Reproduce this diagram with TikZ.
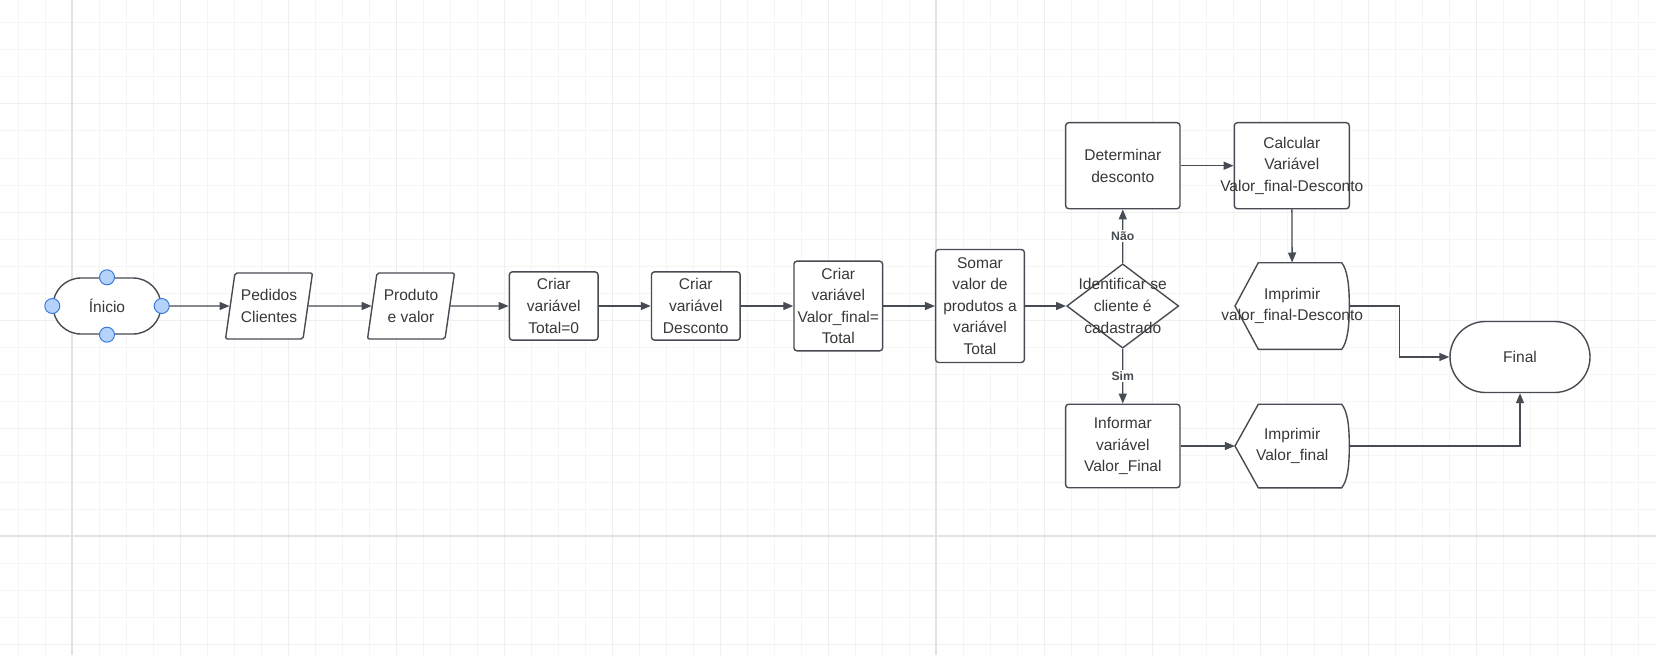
\documentclass[tikz,border=0pt]{standalone}
\usepackage{fontspec}
\setmainfont{Liberation Sans}
\usetikzlibrary{shapes.geometric, shapes.misc, arrows.meta, positioning, calc}

\definecolor{gridminor}{HTML}{F5F5F5}
\definecolor{gridmid}{HTML}{EFEFEF}
\definecolor{gridmajor}{HTML}{E3E3E3}
\definecolor{edgegray}{HTML}{474B53}
\definecolor{textgray}{HTML}{383838}
\definecolor{handlefill}{HTML}{B5D3FA}
\definecolor{handleblue}{HTML}{3A7BDC}

% display shape (print), drawn round a coordinate
\newcommand\printshape[2]{%
  \draw[shapeline, fill=white]
    ($(#1)+(-57.2,0)$) -- ($(#1)+(-33.9,-#2)$) -- ($(#1)+(49.5,-#2)$)
    .. controls ($(#1)+(55,-#2+7)$) and ($(#1)+(57.1,-22)$) .. ($(#1)+(57.1,0)$)
    .. controls ($(#1)+(57.1,22)$) and ($(#1)+(55,#2-7)$) .. ($(#1)+(49.5,#2)$)
    -- ($(#1)+(-33.9,#2)$) -- cycle;}

\begin{document}
\begin{tikzpicture}[x=1bp, y=-1bp,
    every node/.style={font=\fontsize{15.6}{21.7}\selectfont, text=textgray, align=center},
    shapeline/.style={draw=edgegray, line width=1.4bp},
    box/.style={shapeline, fill=white, rounded corners=3bp, inner sep=0pt},
    term/.style={shapeline, fill=white, rounded rectangle, inner sep=0pt},
    io/.style={shapeline, fill=white, trapezium, trapezium left angle=74, trapezium right angle=106,
      trapezium stretches body, minimum width=87bp, minimum height=66bp, inner sep=0pt, rounded corners=2bp},
    decision/.style={shapeline, fill=white, diamond, minimum width=112bp, minimum height=84.3bp, inner sep=0pt},
    flow/.style={draw=edgegray, line width=1.4bp, -{Triangle[length=10bp, width=8bp]}},
    answer/.style={font=\fontsize{12.3}{14}\selectfont\bfseries, text=edgegray, fill=white, inner sep=1.5bp},
    handle/.style={draw=handleblue, fill=handlefill, line width=1bp}]

    % Canvas grid
    \useasboundingbox (0,0) rectangle (1656,655);
    \fill[white] (0,0) rectangle (1656,655);
    \foreach \i in {-2,...,58}
        \draw[gridminor, line width=1bp] ({72+27*\i},0) -- ({72+27*\i},655);
    \foreach \i in {-19,...,4}
        \draw[gridminor, line width=1bp] (0,{536+27*\i}) -- (1656,{536+27*\i});
    \foreach \i in {0,...,14}
        \draw[gridmid, line width=1bp] ({72+108*\i},0) -- ({72+108*\i},655);
    \foreach \i in {-4,...,1}
        \draw[gridmid, line width=1bp] (0,{536+108*\i}) -- (1656,{536+108*\i});
    \foreach \x in {72,936}
        \draw[gridmajor, line width=1.8bp] (\x,0) -- (\x,655);
    \draw[gridmajor, line width=1.8bp] (0,536) -- (1656,536);

    % Main row
    \node[term, minimum width=108bp, minimum height=56bp] (inicio) at (107,306) {Ínicio};
    \node[io] (pedidos) at (269,306) {Pedidos\\Clientes};
    \node[io] (produto) at (411,306) {Produto\\e valor};
    \node[box, minimum width=88.7bp, minimum height=68.3bp] (total) at (553.7,306) {Criar\\variável\\Total=0};
    \node[box, minimum width=88.7bp, minimum height=68.3bp] (desconto) at (695.8,306) {Criar\\variável\\Desconto};
    \node[box, minimum width=88.7bp, minimum height=89.7bp] (valfinal) at (838.3,306) {Criar\\variável\\Valor\_final=\\Total};
    \node[box, minimum width=88.7bp, minimum height=113bp] (somar) at (980,306) {Somar\\valor de\\produtos a\\variável\\Total};
    \node[decision] (ident) at (1122.7,306) {};
    \node (identtxt) at (ident) {Identificar se\\cliente é\\cadastrado};

    % Branches
    \node[box, minimum width=114.3bp, minimum height=86bp] (determinar) at (1122.8,165.7) {Determinar\\desconto};
    \node[box, minimum width=115bp, minimum height=86bp] (calcular) at (1291.8,165.7) {Calcular\\Variável\\\makebox[0pt]{Valor\_final-Desconto}};
    \node[box, minimum width=114.3bp, minimum height=83.5bp] (informar) at (1122.8,446) {Informar\\variável\\Valor\_Final};

    \coordinate (imp1c) at (1292.2,306);
    \coordinate (imp2c) at (1292.2,446);
    \printshape{imp1c}{43.3}
    \printshape{imp2c}{41.8}
    \node[minimum width=114.3bp, minimum height=86.6bp, inner sep=0pt] (imp1) at (imp1c) {Imprimir\\\makebox[0pt]{valor\_final-Desconto}};
    \node[minimum width=114.3bp, minimum height=83.6bp, inner sep=0pt] (imp2) at (imp2c) {Imprimir\\Valor\_final};

    \node[term, minimum width=140bp, minimum height=71bp] (final) at (1520,357) {Final};

    % Connectors
    \draw[flow] (inicio) -- (pedidos);
    \draw[flow] (pedidos) -- (produto);
    \draw[flow] (produto) -- (total);
    \draw[flow] (total) -- (desconto);
    \draw[flow] (desconto) -- (valfinal);
    \draw[flow] (valfinal) -- (somar);
    \draw[flow] (somar) -- (ident);
    \draw[flow] (ident) -- node[answer] {Não} (determinar);
    \draw[flow] (ident) -- node[answer] {Sim} (informar);
    \draw[flow] (determinar) -- (calcular);
    \draw[flow] (calcular) -- (imp1);
    \draw[flow] (informar) -- (imp2);
    \draw[flow] (imp1.east) -- ++(50,0) |- (final.west);
    \draw[flow] (imp2.east) -| (final.south);

    % Selection handles
    \foreach \a in {north, south, east, west}
        \draw[handle] (inicio.\a) circle (7.5bp);
\end{tikzpicture}
\end{document}
